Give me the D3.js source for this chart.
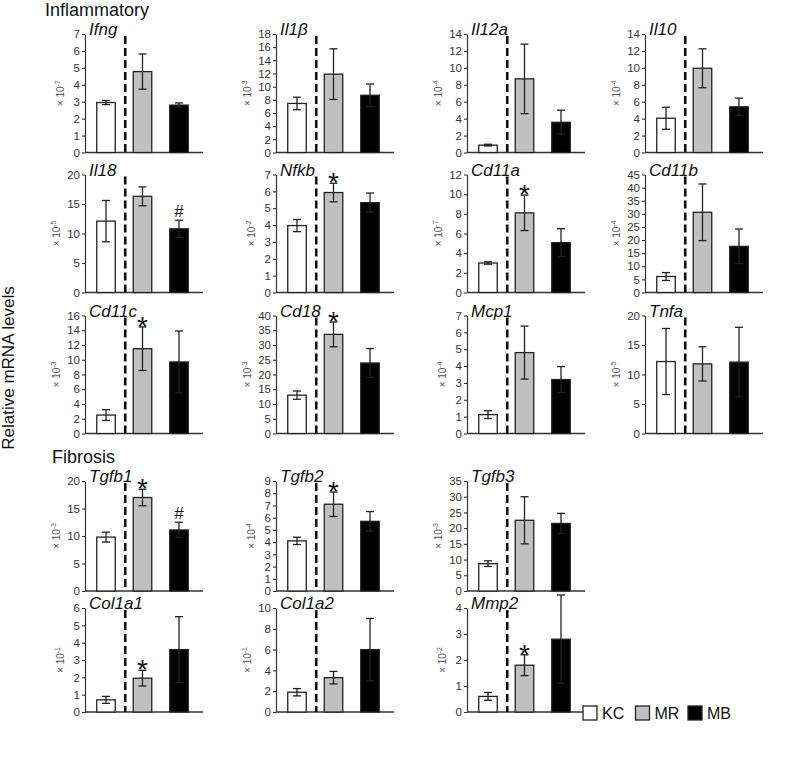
<!DOCTYPE html>
<html>
<head>
<meta charset="utf-8">
<script src="https://d3js.org/d3.v7.min.js"></script>
<style>
    body { margin: 0; background: #fff; }
    svg { display: block; font-family: "Liberation Sans", Arial, sans-serif; }
</style>
</head>
<body>
<svg id="chart" width="789" height="761"></svg>
<script>
// ----- data
var groups = ["KC", "MR", "MB"];

var genes = ["Ifng", "Il1β", "Il12a", "Il10",
             "Il18", "Nfkb", "Cd11a", "Cd11b",
             "Cd11c", "Cd18", "Mcp1", "Tnfa",
             "Tgfb1", "Tgfb2", "Tgfb3",
             "Col1a1", "Col1a2", "Mmp2"];

var means = [
    [2.95, 4.78, 2.80], [7.45, 11.9, 8.7], [0.87, 8.7, 3.57], [4.05, 9.95, 5.4],
    [12.1, 16.3, 10.8], [3.97, 5.93, 5.33], [3.0, 8.1, 5.07], [6.1, 30.6, 17.6],
    [2.5, 11.5, 9.7], [13.0, 33.6, 23.9], [1.12, 4.8, 3.2], [12.2, 11.8, 12.1],
    [9.8, 17.0, 11.1], [4.1, 7.1, 5.7], [8.7, 22.5, 21.5],
    [0.7, 1.95, 3.6], [1.9, 3.3, 6.0], [0.6, 1.8, 2.8]
];

var errors = [
    [0.12, 1.04, 0.13], [0.95, 3.85, 1.7], [0.1, 4.1, 1.43], [1.3, 2.3, 1.02],
    [3.5, 1.6, 1.45], [0.36, 0.55, 0.57], [0.12, 1.8, 1.42], [1.5, 10.8, 6.6],
    [0.73, 2.95, 4.2], [1.4, 4.2, 4.9], [0.23, 1.57, 0.77], [5.6, 2.9, 5.9],
    [0.9, 1.5, 1.4], [0.3, 1.0, 0.8], [0.9, 7.5, 3.2],
    [0.2, 0.45, 1.9], [0.35, 0.6, 3.0], [0.15, 0.4, 1.7]
];

var yMaxes = [7, 18, 14, 14, 20, 7, 12, 45, 16, 40, 7, 20, 20, 9, 35, 6, 10, 4];
var ySteps = [1, 2, 2, 2, 5, 1, 2, 5, 2, 5, 1, 5, 5, 1, 5, 1, 2, 1];
var exponents = [-7, -3, -4, -4, -5, -2, -7, -4, -3, -3, -4, -5, -3, -4, -3, -1, -1, -2];

// significance marks per group (KC, MR, MB)
var marks = [
    ["", "", ""], ["", "", ""], ["", "", ""], ["", "", ""],
    ["", "", "#"], ["", "*", ""], ["", "*", ""], ["", "", ""],
    ["", "*", ""], ["", "*", ""], ["", "", ""], ["", "", ""],
    ["", "*", "#"], ["", "*", ""], ["", "", ""],
    ["", "*", ""], ["", "", ""], ["", "*", ""]
];

// ----- layout
var fills = ["#ffffff", "#c0c0c0", "#000000"];
var panelCol = [0, 1, 2, 3, 0, 1, 2, 3, 0, 1, 2, 3, 0, 1, 2, 0, 1, 2];
var panelRow = [0, 0, 0, 0, 1, 1, 1, 1, 2, 2, 2, 2, 3, 3, 3, 4, 4, 4];
var colX = [85, 276, 467, 645];
var rowTop = [34, 174.5, 315.5, 481, 608];
var rowBottom = [152.5, 292.5, 433.5, 591, 712];
var panelWidth = 118;

var svg = d3.select("#chart");

drawTitles();
for (var i = 0; i < genes.length; i++) {
    drawPanel(i);
}
drawLegend();

function drawTitles() {
    svg.append("text").attr("x", 45).attr("y", 16)
        .style("font-size", "18px").attr("fill", "#111").text("Inflammatory");
    svg.append("text").attr("x", 52).attr("y", 463)
        .style("font-size", "18px").attr("fill", "#111").text("Fibrosis");
    svg.append("text")
        .attr("transform", "translate(14,368) rotate(-90)")
        .attr("text-anchor", "middle")
        .style("font-size", "17px").attr("fill", "#111")
        .text("Relative mRNA levels");
}

function drawPanel(i) {
    var x0 = colX[panelCol[i]],
        top = rowTop[panelRow[i]],
        bottom = rowBottom[panelRow[i]];

    var g = svg.append("g").attr("transform", "translate(" + x0 + ",0)");

    var x = d3.scalePoint().domain(groups).range([21, 94]);
    var y = d3.scaleLinear().domain([0, yMaxes[i]]).range([bottom, top]);
    var barW = 18.5;

    var ticks = d3.range(0, yMaxes[i] + ySteps[i] / 2, ySteps[i]);

    // y axis
    var yAxis = g.append("g")
        .call(d3.axisLeft(y).tickValues(ticks).tickFormat(d3.format("d"))
            .tickSize(3).tickSizeOuter(0).tickPadding(2));
    yAxis.select(".domain").attr("stroke", "#333").attr("stroke-width", 1.2);
    yAxis.selectAll(".tick line").attr("stroke", "#333").attr("stroke-width", 1.1);
    yAxis.selectAll(".tick text").attr("fill", "#333")
        .style("font-size", "11.5px").style("font-family", "Liberation Sans, Arial, sans-serif");

    // x axis line
    g.append("line")
        .attr("x1", 0).attr("x2", panelWidth)
        .attr("y1", bottom).attr("y2", bottom)
        .attr("stroke", "#333").attr("stroke-width", 1.4);

    // exponent label
    var wide = yMaxes[i] >= 10;
    var exp = g.append("text")
        .attr("transform", "translate(" + (wide ? -25 : -21) + "," + ((top + bottom) / 2) + ") rotate(-90)")
        .attr("text-anchor", "middle")
        .attr("fill", "#555")
        .style("font-size", "10px");
    exp.append("tspan").text("× 10");
    exp.append("tspan").attr("dy", -4).style("font-size", "7px").text(exponents[i]);

    // gene name
    g.append("text")
        .attr("x", 4).attr("y", top + 1)
        .style("font-size", "17px").style("font-style", "italic")
        .attr("fill", "#111")
        .text(genes[i]);

    // dashed separator
    var sepX = (x("KC") + x("MR")) / 2 + 1;
    g.append("line")
        .attr("x1", sepX).attr("x2", sepX)
        .attr("y1", top + 2).attr("y2", bottom)
        .attr("stroke", "#111").attr("stroke-width", 2.6)
        .attr("stroke-dasharray", "8,4");

    var rows = groups.map(function (grp, j) {
        return { grp: grp, mean: means[i][j], err: errors[i][j], mark: marks[i][j], fill: fills[j] };
    });

    // bars
    g.selectAll(".bar").data(rows).enter().append("rect")
        .attr("class", "bar")
        .attr("x", function (d) { return x(d.grp) - barW / 2; })
        .attr("y", function (d) { return y(d.mean); })
        .attr("width", barW)
        .attr("height", function (d) { return bottom - y(d.mean); })
        .attr("fill", function (d) { return d.fill; })
        .attr("stroke", "#222").attr("stroke-width", 1.3);

    // error bars
    var eb = g.selectAll(".err").data(rows).enter().append("g").attr("class", "err")
        .attr("stroke", "#222").attr("stroke-width", 1.3);
    eb.append("line")
        .attr("x1", function (d) { return x(d.grp); }).attr("x2", function (d) { return x(d.grp); })
        .attr("y1", function (d) { return y(d.mean - d.err); })
        .attr("y2", function (d) { return y(d.mean + d.err); });
    eb.append("line")
        .attr("x1", function (d) { return x(d.grp) - 4; }).attr("x2", function (d) { return x(d.grp) + 4; })
        .attr("y1", function (d) { return y(d.mean + d.err); })
        .attr("y2", function (d) { return y(d.mean + d.err); });
    eb.append("line")
        .attr("x1", function (d) { return x(d.grp) - 4; }).attr("x2", function (d) { return x(d.grp) + 4; })
        .attr("y1", function (d) { return y(d.mean - d.err); })
        .attr("y2", function (d) { return y(d.mean - d.err); });

    // significance marks
    g.selectAll(".mark").data(rows.filter(function (d) { return d.mark; })).enter().append("text")
        .attr("class", "mark")
        .attr("x", function (d) { return x(d.grp); })
        .attr("y", function (d) { return y(d.mean + d.err) + (d.mark == "*" ? 9 : -3); })
        .attr("text-anchor", "middle")
        .attr("fill", "#111")
        .style("font-size", function (d) { return d.mark == "*" ? "28px" : "17px"; })
        .text(function (d) { return d.mark; });
}

function drawLegend() {
    var items = groups.map(function (grp, j) { return { grp: grp, fill: fills[j] }; });
    var legX = d3.scalePoint().domain(groups).range([583, 688]);
    var lg = svg.selectAll(".legend").data(items).enter().append("g")
        .attr("class", "legend")
        .attr("transform", function (d) { return "translate(" + legX(d.grp) + ",706)"; });
    lg.append("rect").attr("width", 14).attr("height", 14)
        .attr("fill", function (d) { return d.fill; })
        .attr("stroke", "#222").attr("stroke-width", 1.3);
    lg.append("text").attr("x", 19).attr("y", 13)
        .style("font-size", "16px").attr("fill", "#111")
        .text(function (d) { return d.grp; });
}
</script>
</body>
</html>
